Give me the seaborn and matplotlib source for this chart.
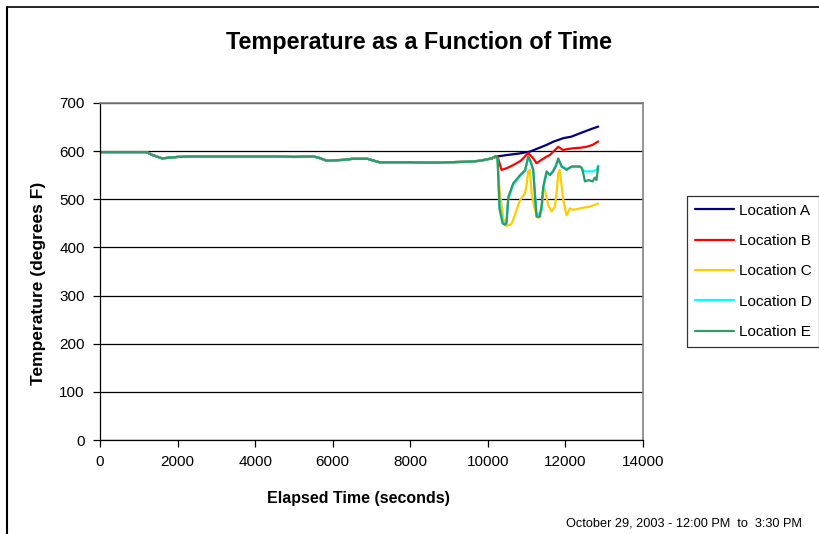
import matplotlib
matplotlib.use("Agg")
import matplotlib.pyplot as plt
import seaborn as sns
import pandas as pd
from matplotlib.lines import Line2D

# ---------------- data ----------------
t_early = [0, 600, 1200, 1350, 1600, 2000, 2500, 3000, 3500, 4000, 4500, 5000, 5500,
           5650, 5850, 6300, 6500, 6900, 7200, 7600, 8000, 8500, 9000, 9500, 9800, 10100]
v_early = [598, 598, 598, 592, 585, 588, 589, 589, 589, 589, 589, 588, 589,
           586, 580, 582, 584, 584, 577, 577, 577, 576, 577, 578, 580, 585]

t_a = [10250, 10500, 10800, 11085, 11300, 11515, 11700, 11945, 12150, 12374, 12600, 12846]
v_a = [589, 592, 595, 599, 606, 613, 620, 627, 630, 637, 644, 651]

t_b = [10250, 10300, 10353, 10500, 10653, 10850, 11040, 11170, 11255, 11385, 11500,
       11600, 11700, 11815, 11945, 12030, 12200, 12374, 12545, 12700, 12846]
v_b = [589, 575, 561, 565, 571, 580, 596, 585, 575, 582, 588,
       592, 600, 609, 602, 604, 606, 607, 609, 613, 620]

t_c = [10200, 10250, 10300, 10400, 10480, 10600, 10653, 10750, 10828, 10956, 11000,
       11040, 11085, 11128, 11213, 11300, 11385, 11427, 11470, 11557, 11643, 11730,
       11780, 11815, 11850, 11900, 11945, 12030, 12116, 12200, 12374, 12500, 12632, 12846]
v_c = [588, 580, 520, 460, 445, 448, 457, 480, 498, 512, 530,
       558, 561, 512, 478, 461, 478, 523, 520, 488, 475, 485,
       520, 554, 561, 530, 498, 467, 481, 478, 481, 483, 485, 491]

t_de = [10200, 10250, 10300, 10380, 10440, 10480, 10527, 10653, 10828, 10960, 11040,
        11100, 11170, 11220, 11255, 11340, 11390, 11427, 11515, 11600, 11685, 11760,
        11815, 11900, 12030, 12160, 12374, 12420, 12460, 12503, 12600, 12700, 12760,
        12800, 12846]
v_d = [590, 585, 490, 455, 450, 452, 500, 530, 548, 560, 585,
       578, 560, 510, 470, 470, 480, 520, 555, 552, 560, 572,
       583, 570, 563, 568, 568, 566, 560, 558, 558, 558, 560,
       560, 570]
v_e = [590, 585, 480, 450, 447, 450, 505, 533, 550, 560, 589,
       580, 561, 500, 464, 464, 490, 526, 558, 550, 558, 570,
       585, 568, 561, 568, 568, 565, 554, 537, 540, 537, 545,
       540, 568]

series_names = ["Location A", "Location B", "Location C", "Location D", "Location E"]
series_colors = ["#000080", "#FF0000", "#FFCC00", "#00FFFF", "#339966"]

x_ticks = [0, 2000, 4000, 6000, 8000, 10000, 12000, 14000]
y_ticks = [0, 100, 200, 300, 400, 500, 600, 700]

title = "Temperature as a Function of Time"
x_label = "Elapsed Time (seconds)"
y_label = "Temperature (degrees F)"
footer = "October 29, 2003 - 12:00 PM  to  3:30 PM"

# ---------------- frame ----------------
late = {
    "Location A": (t_a, v_a),
    "Location B": (t_b, v_b),
    "Location C": (t_c, v_c),
    "Location D": (t_de, v_d),
    "Location E": (t_de, v_e),
}
rows = []
for name in series_names:
    tt, vv = late[name]
    for t, v in zip(t_early + tt, v_early + vv):
        rows.append({"time": t, "temp": v, "series": name})
df = pd.DataFrame(rows)

sns.set_style("white")
plt.rcParams["font.family"] = ["Liberation Sans", "DejaVu Sans"]
plt.rcParams["text.color"] = "black"
plt.rcParams["axes.labelcolor"] = "black"
plt.rcParams["xtick.color"] = "black"
plt.rcParams["ytick.color"] = "black"

fig = plt.figure(figsize=(8.2, 5.34), dpi=100)
ax = fig.add_axes([100 / 820, 1 - 440 / 534, (643 - 100) / 820, (440 - 103) / 534])

sns.lineplot(data=df, x="time", y="temp", hue="series", hue_order=series_names,
             palette=dict(zip(series_names, series_colors)), estimator=None,
             sort=False, linewidth=1.6, ax=ax, legend=False)

ax.set_xlim(0, 14000)
ax.set_ylim(0, 700)
ax.set_xticks(x_ticks)
ax.set_yticks(y_ticks)
ax.set_xticklabels([str(v) for v in x_ticks], fontsize=11)
ax.set_yticklabels([str(v) for v in y_ticks], fontsize=11)
ax.yaxis.grid(True, color="black", linewidth=0.9)
ax.xaxis.grid(False)
ax.set_axisbelow(True)
ax.tick_params(axis="both", which="major", direction="out", length=5, width=0.9,
               color="black", labelcolor="black", pad=6, left=True, bottom=True)
for side in ["left", "bottom"]:
    ax.spines[side].set_color("black")
    ax.spines[side].set_linewidth(0.9)
for side in ["top", "right"]:
    ax.spines[side].set_visible(True)
    ax.spines[side].set_color("#808080")
    ax.spines[side].set_linewidth(1.2)

ax.set_xlabel(x_label, fontsize=11.5, fontweight="bold", color="black")
ax.set_ylabel(y_label, fontsize=12.5, fontweight="bold", color="black")
ax.xaxis.set_label_coords((358 - 100) / 543, (440 - 498) / 337)
ax.yaxis.set_label_coords((38.5 - 100) / 543, (440 - 283) / 337)
ax.xaxis.label.set_va("center")
ax.yaxis.label.set_va("center")

fig.text(419 / 820, 1 - 42 / 534, title, ha="center", va="center",
         fontsize=16.8, fontweight="bold", color="black")
fig.text(566 / 820, 1 - 523 / 534, footer, ha="left", va="center", fontsize=9.2,
         color="black")

handles = [Line2D([], [], color=c, linewidth=1.6) for c in series_colors]
leg = fig.legend(handles, series_names, loc="upper left",
                 bbox_to_anchor=(687 / 820, 1 - 196 / 534), fontsize=11,
                 frameon=True, fancybox=False, handlelength=2.6,
                 handletextpad=0.3, labelspacing=1.07, borderpad=0.5,
                 borderaxespad=0)
leg.get_frame().set_edgecolor("black")
leg.get_frame().set_linewidth(0.9)
for txt in leg.get_texts():
    txt.set_color("black")

# outer chart border
fig.add_artist(Line2D([7.5 / 820, 7.5 / 820], [0, 1 - 6.5 / 534], transform=fig.transFigure,
                      color="black", linewidth=1.5))
fig.add_artist(Line2D([7.5 / 820, 1.0], [1 - 6.5 / 534, 1 - 6.5 / 534], transform=fig.transFigure,
                      color="black", linewidth=1.2))

fig.savefig("out.png", dpi=100)
